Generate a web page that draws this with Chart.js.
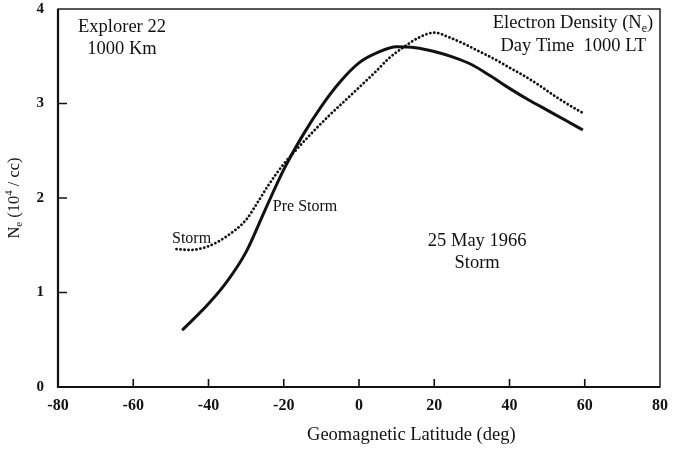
<!DOCTYPE html>
<html>
<head>
<meta charset="utf-8">
<script src="https://cdn.jsdelivr.net/npm/chart.js@4.4.1/dist/chart.umd.min.js"></script>
<style>
  html, body { margin: 0; padding: 0; background: #fff; }
  canvas { display: block; }
</style>
</head>
<body>
<canvas id="ne-chart" width="673" height="449"></canvas>
<script>
// Explorer 22, 1000 km, day time electron density vs geomagnetic latitude
const preStormLat = [-47, -40, -35, -30, -25, -20, -15, -10, -5, 0, 5, 10, 15, 20, 25, 30, 35, 40, 45, 50, 55, 59.5];
const preStormNe = [0.60, 0.88, 1.12, 1.43, 1.87, 2.30, 2.66, 2.97, 3.23, 3.43, 3.54, 3.60, 3.59, 3.55, 3.49, 3.41, 3.29, 3.16, 3.04, 2.93, 2.82, 2.72];

const stormLat = [-48.5, -45, -40, -35, -30, -27, -24, -20, -16, -12, -8, -4, 0, 4, 8, 12, 16, 20, 24, 28, 32, 36, 40, 44, 48, 52, 56, 59.5];
const stormNe = [1.46, 1.45, 1.49, 1.60, 1.77, 1.95, 2.14, 2.36, 2.54, 2.71, 2.87, 3.02, 3.17, 3.32, 3.48, 3.60, 3.70, 3.75, 3.70, 3.63, 3.55, 3.47, 3.38, 3.29, 3.19, 3.08, 2.98, 2.90];

const xTicks = [-80, -60, -40, -20, 0, 20, 40, 60, 80];
const yTicks = [0, 1, 2, 3, 4];

const SERIF = "'Liberation Serif', 'Times New Roman', serif";
const INK = "#111";

// text placed in data units; parts are [text, shift] with shift 1 = superscript, -1 = subscript
const notes = [
  { lat: -63, ne: 3.81, align: "center", size: 18.5, parts: [["Explorer 22", 0]] },
  { lat: -63, ne: 3.57, align: "center", size: 18.5, parts: [["1000 Km", 0]] },
  { lat: 78.2, ne: 3.85, align: "right", size: 18.5, parts: [["Electron Density (N", 0], ["e", -1], [")", 0]] },
  { lat: 76.3, ne: 3.61, align: "right", size: 18.5, parts: [["Day Time  1000 LT", 0]] },
  { lat: -22.9, ne: 1.91, align: "left", size: 16, parts: [["Pre Storm", 0]] },
  { lat: -49.7, ne: 1.57, align: "left", size: 16, parts: [["Storm", 0]] },
  { lat: 31.4, ne: 1.54, align: "center", size: 18.5, parts: [["25 May 1966", 0]] },
  { lat: 31.4, ne: 1.31, align: "center", size: 18.5, parts: [["Storm", 0]] },
];

function toPoints(xs, ys) {
  return xs.map((x, i) => ({ x, y: ys[i] }));
}

function drawRich(ctx, parts, x, y, align, size) {
  const fontFor = (shift) => `${shift ? size * 0.65 : size}px ${SERIF}`;
  const widths = parts.map(([text, shift]) => {
    ctx.font = fontFor(shift);
    return ctx.measureText(text).width;
  });
  const total = widths.reduce((a, b) => a + b, 0);
  let cx = align === "right" ? x - total : align === "center" ? x - total / 2 : x;
  ctx.textAlign = "left";
  ctx.textBaseline = "middle";
  parts.forEach(([text, shift], i) => {
    ctx.font = fontFor(shift);
    const dy = shift > 0 ? -size * 0.35 : shift < 0 ? size * 0.28 : 0;
    ctx.fillText(text, cx, y + dy);
    cx += widths[i];
  });
}

// box round the plot, inward tick marks and the free text
const framePlugin = {
  id: "frame",
  afterDatasetsDraw(chart) {
    const { ctx, chartArea: a, scales } = chart;
    const x = scales.x;
    const y = scales.y;
    ctx.save();
    ctx.strokeStyle = INK;
    ctx.lineWidth = 1.4;
    ctx.strokeRect(a.left, a.top, a.width, a.height);
    ctx.lineWidth = 2.2;
    ctx.beginPath();
    ctx.moveTo(a.left, a.top);
    ctx.lineTo(a.left, a.bottom);
    ctx.lineTo(a.right, a.bottom);
    ctx.stroke();

    ctx.lineWidth = 1.6;
    ctx.beginPath();
    xTicks.slice(1, -1).forEach((v) => {
      const px = x.getPixelForValue(v);
      ctx.moveTo(px, a.bottom);
      ctx.lineTo(px, a.bottom - 8);
    });
    yTicks.slice(1, -1).forEach((v) => {
      const py = y.getPixelForValue(v);
      ctx.moveTo(a.left, py);
      ctx.lineTo(a.left + 9, py);
    });
    ctx.stroke();

    ctx.fillStyle = INK;
    notes.forEach((n) => {
      drawRich(ctx, n.parts, x.getPixelForValue(n.lat), y.getPixelForValue(n.ne), n.align, n.size);
    });

    // axis titles
    drawRich(ctx, [["Geomagnetic Latitude (deg)", 0]], x.getPixelForValue(13.9), a.bottom + 48, "center", 18.5);

    ctx.translate(15, y.getPixelForValue(2.0));
    ctx.rotate(-Math.PI / 2);
    drawRich(ctx, [["N", 0], ["e", -1], [" (10", 0], ["4", 1], [" / cc)", 0]], 0, 0, "center", 16.5);
    ctx.restore();
  },
};

const chart = new Chart(document.getElementById("ne-chart"), {
  type: "line",
  data: {
    datasets: [
      {
        label: "Pre Storm",
        data: toPoints(preStormLat, preStormNe),
        borderColor: INK,
        borderWidth: 3,
        pointRadius: 0,
        cubicInterpolationMode: "monotone",
      },
      {
        label: "Storm",
        data: toPoints(stormLat, stormNe),
        borderColor: INK,
        borderWidth: 2.8,
        borderDash: [0.1, 3.9],
        borderCapStyle: "round",
        pointRadius: 0,
        cubicInterpolationMode: "monotone",
      },
    ],
  },
  options: {
    responsive: false,
    animation: false,
    layout: { padding: { top: 9, right: 13, left: 0, bottom: 0 } },
    plugins: {
      legend: { display: false },
      tooltip: { enabled: false },
    },
    scales: {
      x: {
        type: "linear",
        min: -80,
        max: 80,
        afterBuildTicks: (scale) => {
          scale.ticks = xTicks.map((value) => ({ value }));
        },
        afterFit: (scale) => {
          scale.height = 62;
          scale.paddingLeft = 0;
          scale.paddingRight = 0;
        },
        grid: { display: false, drawTicks: false },
        border: { display: false },
        ticks: {
          color: INK,
          padding: 9,
          maxRotation: 0,
          font: { family: SERIF, size: 16, weight: "bold" },
        },
      },
      y: {
        type: "linear",
        min: 0,
        max: 4,
        afterBuildTicks: (scale) => {
          scale.ticks = yTicks.map((value) => ({ value }));
        },
        afterFit: (scale) => {
          scale.width = 58;
          scale.paddingTop = 0;
          scale.paddingBottom = 0;
        },
        grid: { display: false, drawTicks: false },
        border: { display: false },
        ticks: {
          color: INK,
          padding: 14,
          font: { family: SERIF, size: 15, weight: "bold" },
        },
      },
    },
  },
  plugins: [framePlugin],
});
</script>
</body>
</html>
